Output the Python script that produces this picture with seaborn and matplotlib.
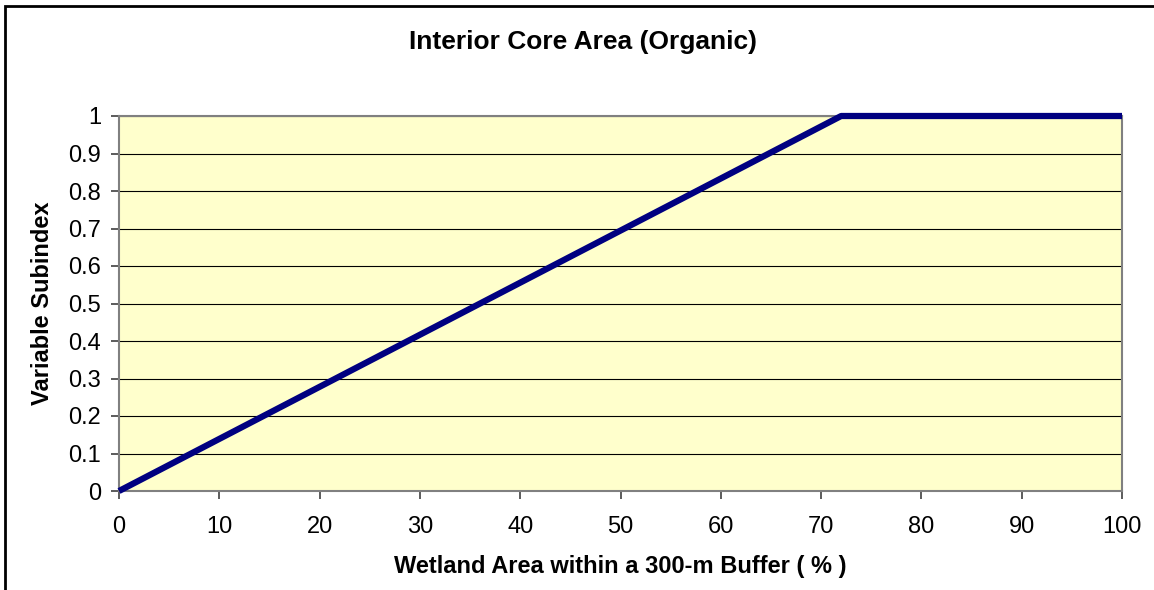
import matplotlib
matplotlib.use('Agg')
import matplotlib.pyplot as plt
import seaborn as sns
import pandas as pd
from matplotlib.patches import Rectangle

# data
wetland_pct = [0, 72, 100]
subindex = [0, 1, 1]
x_ticks = list(range(0, 101, 10))
y_ticks = [0, 0.1, 0.2, 0.3, 0.4, 0.5, 0.6, 0.7, 0.8, 0.9, 1]
y_tick_labels = ['0', '0.1', '0.2', '0.3', '0.4', '0.5', '0.6', '0.7', '0.8', '0.9', '1']

df = pd.DataFrame({'wetland': wetland_pct, 'subindex': subindex})

sns.set_style('white', {'text.color': 'black', 'axes.labelcolor': 'black',
                        'xtick.color': 'black', 'ytick.color': 'black'})
plt.rcParams['font.family'] = ['Liberation Sans', 'DejaVu Sans']

fig = plt.figure(figsize=(11.54, 5.9), dpi=100)
ax = fig.add_axes([119 / 1154, 1 - 491 / 590, (1122 - 119) / 1154, (491 - 116) / 590])
ax.set_facecolor('#FFFFCC')

sns.lineplot(data=df, x='wetland', y='subindex', ax=ax, color='#000080', linewidth=4.5,
             solid_capstyle='butt', clip_on=False, zorder=5)

ax.set_xlim(0, 100)
ax.set_ylim(0, 1)
ax.set_xticks(x_ticks)
ax.set_xticklabels([str(t) for t in x_ticks])
ax.set_yticks(y_ticks)
ax.set_yticklabels(y_tick_labels)
ax.yaxis.grid(True, color='black', linewidth=0.8)
ax.set_axisbelow(True)
for s in ax.spines.values():
    s.set_color('#808080')
    s.set_linewidth(1.5)
ax.tick_params(axis='both', direction='out', length=6, width=1.2, color='#404040',
               labelcolor='black', labelsize=17, pad=7, bottom=True, left=True)
ax.tick_params(axis='x', pad=12)

ax.set_xlabel('Wetland Area within a 300-m Buffer ( % )', fontsize=17, fontweight='bold',
              labelpad=12, color='black')
ax.set_ylabel('Variable Subindex', fontsize=17, fontweight='bold', labelpad=10, color='black')
fig.text(583 / 1154, 1 - 42 / 590, 'Interior Core Area (Organic)', fontsize=19, fontweight='bold',
         ha='center', va='center', color='black')

# outer chart border
fig.patches.append(Rectangle((5 / 1154, -0.01), 1.1, 1 - 6 / 590 + 0.01, transform=fig.transFigure,
                             fill=False, edgecolor='black', linewidth=2))

fig.savefig('out.png', dpi=100)
